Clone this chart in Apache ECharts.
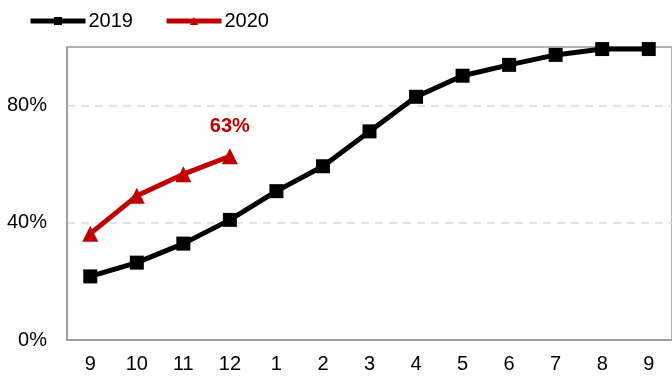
<!DOCTYPE html>
<html>
<head>
<meta charset="utf-8">
<script src="https://cdn.jsdelivr.net/npm/echarts@6/dist/echarts.min.js"></script>
<style>
  html, body { margin: 0; padding: 0; background: #fff; }
  #chart { width: 672px; height: 377px; }
</style>
</head>
<body>
<div id="chart"></div>
<script>
  // months from Sep to next Sep
  var months = ['9', '10', '11', '12', '1', '2', '3', '4', '5', '6', '7', '8', '9'];
  var y2019 = [0.217, 0.264, 0.329, 0.41, 0.508, 0.593, 0.712, 0.83, 0.902, 0.939, 0.973, 0.993, 0.993];
  var y2020 = [0.363, 0.492, 0.566, 0.627];
  var lastLabel = '63%';

  var red = '#C00000';
  var chart = echarts.init(document.getElementById('chart'));

  var redData = y2020.map(function (v, i) {
    if (i === y2020.length - 1) {
      return {
        value: v,
        label: {
          show: true, position: 'top', distance: 12,
          formatter: lastLabel, color: red, fontWeight: 'bold', fontSize: 20,
          fontFamily: 'Liberation Sans'
        }
      };
    }
    return v;
  });

  var option = {
    animation: false,
    textStyle: { fontFamily: 'Liberation Sans' },
    legend: {
      left: 23, top: 6,
      itemWidth: 55, itemHeight: 10, itemGap: 31,
      textStyle: { fontSize: 20, color: '#000', padding: [0, 0, 0, -2] },
      data: [
        { name: '2019', lineStyle: { width: 5 } },
        { name: '2020', lineStyle: { width: 5 } }
      ]
    },
    grid: {
      left: 67, top: 47, bottom: 37, width: 607,
      show: true, borderColor: '#999', borderWidth: 1.5, backgroundColor: 'transparent'
    },
    xAxis: {
      type: 'category',
      data: months,
      boundaryGap: true,
      axisLine: { lineStyle: { color: '#999', width: 1.5 } },
      axisTick: { show: false },
      axisLabel: { color: '#000', fontSize: 20, margin: 14 }
    },
    yAxis: {
      type: 'value',
      min: 0, max: 1, interval: 0.4,
      axisLine: { show: true, lineStyle: { color: '#999', width: 1.5 } },
      axisTick: { show: false },
      axisLabel: {
        color: '#000', fontSize: 20, margin: 20, showMaxLabel: false,
        formatter: function (v) { return Math.round(v * 100) + '%'; }
      },
      splitLine: {
        showMaxLine: false, showMinLine: false,
        lineStyle: { color: '#d9d9d9', type: [8, 6], width: 1.5 }
      }
    },
    series: [
      {
        name: '2019', type: 'line', data: y2019,
        symbol: 'rect', symbolSize: 14,
        itemStyle: { color: '#000' },
        lineStyle: { color: '#000', width: 5 },
        z: 3
      },
      {
        name: '2020', type: 'line', data: redData,
        symbol: 'triangle', symbolSize: 16,
        itemStyle: { color: red },
        lineStyle: { color: red, width: 5 },
        z: 4
      }
    ]
  };
  chart.setOption(option);
</script>
</body>
</html>
